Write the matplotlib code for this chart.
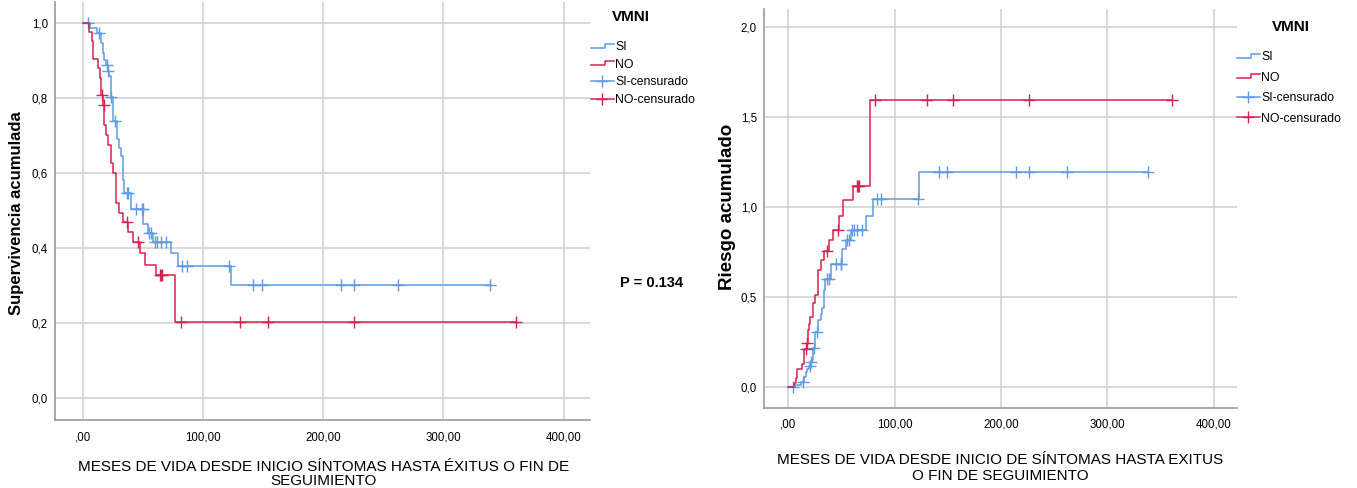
import numpy as np
import matplotlib
matplotlib.use("Agg")
import matplotlib.pyplot as plt
from matplotlib.lines import Line2D
from matplotlib.legend_handler import HandlerBase

# datos (Kaplan-Meier, VMNI)
si_t = [6.1, 11.6, 14.9, 16.6, 17.7, 19.4, 20.7, 22.1, 23.5, 25.4, 28.2, 30.4, 31.8,
        33.2, 34.6, 40.1, 50.3, 54.5, 58.6, 73.3, 79.4, 123.0]
si_s = [0.985, 0.972, 0.945, 0.919, 0.901, 0.888, 0.870, 0.857, 0.803, 0.737, 0.689,
        0.666, 0.644, 0.582, 0.547, 0.504, 0.463, 0.441, 0.416, 0.386, 0.352, 0.302]
si_cens = [4.7, 13.8, 19.9, 21.3, 23.8, 26.8, 36.5, 37.9, 44.3, 49.0, 49.8, 55.4, 56.5,
           60.0, 61.5, 64.8, 69.2, 83.0, 87.2, 121.6, 141.9, 148.8, 214.5, 226.0,
           262.0, 338.6]

no_t = [5.5, 7.4, 8.3, 13.0, 14.4, 14.9, 17.1, 18.0, 19.4, 20.7, 23.5, 24.9, 27.4,
        30.4, 33.7, 37.9, 41.5, 47.6, 51.7, 60.9, 76.7]
no_s = [0.976, 0.950, 0.903, 0.879, 0.852, 0.808, 0.780, 0.728, 0.702, 0.675, 0.627,
        0.600, 0.520, 0.494, 0.469, 0.442, 0.416, 0.386, 0.354, 0.327, 0.203]
no_cens = [16.3, 17.7, 36.5, 46.2, 64.2, 65.5, 66.3, 81.5, 130.5, 154.4, 226.0, 360.5]

x_ticks = [0, 100, 200, 300, 400]
x_labels = [",00", "100,00", "200,00", "300,00", "400,00"]
y1_ticks = [0.0, 0.2, 0.4, 0.6, 0.8, 1.0]
y1_labels = ["0,0", "0,2", "0,4", "0,6", "0,8", "1,0"]
y2_ticks = [0.0, 0.5, 1.0, 1.5, 2.0]
y2_labels = ["0,0", "0,5", "1,0", "1,5", "2,0"]

BLUE = "#5f9ae4"
RED = "#d9224f"
GRID = "#cfcfcf"
SPINE = "#9a9a9a"
FONT = ["Liberation Sans", "DejaVu Sans"]

W, H = 1357, 488


def fx(px):
    return px / W


def fy(py):
    return 1 - py / H


def curva(t, s, cens):
    t = np.array(t)
    s = np.array(s)
    cens = np.array(cens)
    xs = np.concatenate([[0], t, [cens.max()]])
    ys = np.concatenate([[1.0], s, [s[-1]]])
    idx = np.searchsorted(t, cens, side="right") - 1
    sc = np.where(idx >= 0, s[np.clip(idx, 0, None)], 1.0)
    return xs, ys, cens, sc


class StepHandler(HandlerBase):
    def create_artists(self, legend, orig_handle, xdescent, ydescent,
                       width, height, fontsize, trans):
        x0, y0 = -xdescent, -ydescent
        xs = [x0, x0 + 0.62 * width, x0 + 0.62 * width, x0 + width]
        ys = [y0 + 0.25 * height, y0 + 0.25 * height, y0 + 0.75 * height, y0 + 0.75 * height]
        ln = Line2D(xs, ys, color=orig_handle.get_color(), lw=orig_handle.get_linewidth())
        ln.set_transform(trans)
        return [ln]


def estilo(ax, ylim, yt, yl):
    ax.set_xlim(-23, 422)
    ax.set_ylim(*ylim)
    ax.set_xticks(x_ticks)
    ax.set_xticklabels(x_labels, family=FONT, fontsize=8.3)
    ax.set_yticks(yt)
    ax.set_yticklabels(yl, family=FONT, fontsize=8.3)
    ax.tick_params(length=0)
    ax.tick_params(axis="x", pad=8)
    ax.tick_params(axis="y", pad=5)
    ax.grid(True, color=GRID, lw=1.1)
    ax.set_axisbelow(True)
    for sp in ["top", "right"]:
        ax.spines[sp].set_visible(False)
    for sp in ["left", "bottom"]:
        ax.spines[sp].set_color(SPINE)
        ax.spines[sp].set_linewidth(1.2)


def leyenda(x, y, titulo_x, titulo_y, espacio):
    hs = [Line2D([], [], color=BLUE, lw=1.1),
          Line2D([], [], color=RED, lw=1.1),
          Line2D([], [], color=BLUE, lw=1.1, marker="+", ms=8, mew=1.0),
          Line2D([], [], color=RED, lw=1.1, marker="+", ms=8, mew=1.0)]
    hm = {hs[0]: StepHandler(), hs[1]: StepHandler()}
    fig.legend(hs, ["SI", "NO", "SI-censurado", "NO-censurado"], handler_map=hm,
               loc="upper left", bbox_to_anchor=(fx(x), fy(y)), frameon=False,
               prop={"family": FONT, "size": 8.8}, handlelength=1.85,
               handletextpad=0.15, labelspacing=espacio, borderpad=0, borderaxespad=0)
    fig.text(fx(titulo_x), fy(titulo_y), "VMNI", family=FONT, fontsize=11,
             fontweight="bold", ha="center", va="center")


fig = plt.figure(figsize=(W / 100, H / 100), dpi=100)

# supervivencia
ax1 = fig.add_axes([fx(55), fy(420), fx(590 - 55), (420 - 2) / H])
for t, s, c, col in [(si_t, si_s, si_cens, BLUE), (no_t, no_s, no_cens, RED)]:
    xs, ys, ct, cs = curva(t, s, c)
    ax1.step(xs, ys, where="post", color=col, lw=1.1)
    ax1.plot(ct, cs, "+", color=col, ms=8, mew=1.0)
estilo(ax1, (-0.058, 1.055), y1_ticks, y1_labels)

# riesgo acumulado
ax2 = fig.add_axes([fx(764), fy(407.7), fx(1237 - 764), (407.7 - 8.7) / H])
for t, s, c, col in [(si_t, si_s, si_cens, BLUE), (no_t, no_s, no_cens, RED)]:
    xs, ys, ct, cs = curva(t, s, c)
    ax2.step(xs, -np.log(ys), where="post", color=col, lw=1.1)
    ax2.plot(ct, -np.log(cs), "+", color=col, ms=8, mew=1.0)
estilo(ax2, (-0.113, 2.104), y2_ticks, y2_labels)

fig.text(fx(17), fy(213), "Supervivencia acumulada", family=FONT, fontsize=12,
         fontweight="bold", rotation=90, ha="center", va="center")
fig.text(fx(727), fy(207), "Riesgo acumulado", family=FONT, fontsize=13.5,
         fontweight="bold", rotation=90, ha="center", va="center")

fig.text(fx(324), fy(474), "MESES DE VIDA DESDE INICIO SÍNTOMAS HASTA ÉXITUS O FIN DE\nSEGUIMIENTO",
         family=FONT, fontsize=11, ha="center", va="center", linespacing=1.05)
fig.text(fx(1000), fy(468), "MESES DE VIDA DESDE INICIO DE SÍNTOMAS HASTA EXITUS\nO FIN DE SEGUIMIENTO",
         family=FONT, fontsize=11, ha="center", va="center", linespacing=1.15)

fig.text(fx(652), fy(283), "P = 0.134", family=FONT, fontsize=10.5,
         fontweight="bold", ha="center", va="center")

leyenda(591, 41, 631, 17, 0.46)
leyenda(1237, 51, 1291, 27, 0.70)

fig.savefig("out.png", dpi=100)
